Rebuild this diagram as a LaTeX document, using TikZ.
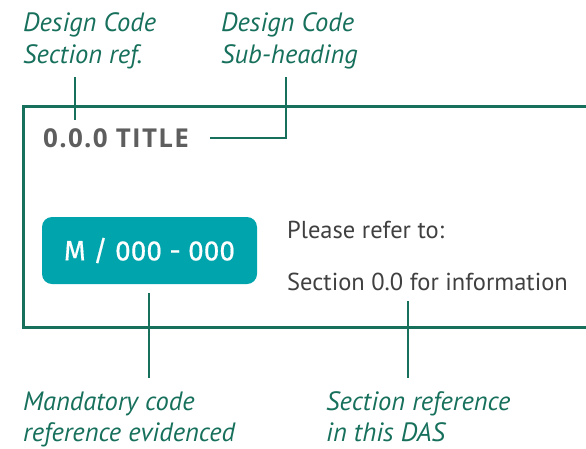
\documentclass[tikz,border=0pt]{standalone}
\usepackage{fontspec}
\setmainfont{PT Sans}
\newfontfamily\titlefont[LetterSpace=5]{Open Sans}
\newfontfamily\codefont{Fira Sans}
\definecolor{dgreen}{HTML}{17705C}
\definecolor{teal1}{HTML}{00A4AD}
\definecolor{txtgray}{HTML}{404040}
\definecolor{titlegray}{HTML}{5E5E5E}
\tikzset{
  lbl/.style={anchor=base west, inner sep=0pt, text=dgreen, font=\fontsize{26.5}{31}\selectfont\itshape, align=left},
  conn/.style={draw=dgreen, line width=2.4pt},
  frame/.style={draw=dgreen, line width=3pt},
  body/.style={anchor=base west, inner sep=0pt, text=txtgray, font=\fontsize{24.5}{28}\selectfont},
}
\begin{document}
\begin{tikzpicture}[x=1pt,y=-1pt]
\useasboundingbox (0,0) rectangle (586,448);
% frame (open on right)
\draw[frame] (590,106) -- (23.5,106) -- (23.5,327) -- (590,327);
% top labels
\node[lbl] (l1a) at (23,31) {Design Code};
\node[lbl] (l1b) at (23,63) {Section ref.};
\node[lbl] (l2a) at (221,31) {Design Code};
\node[lbl] (l2b) at (221,63) {Sub-heading};
% title
\node[anchor=base west, inner sep=0pt, text=titlegray, font=\titlefont\bfseries\fontsize{26}{30}\selectfont] (title) at (43,147.5) {0.0.0 TITLE};
% teal box
\node[fill=teal1, rounded corners=10pt, minimum width=215pt, minimum height=67pt, inner sep=0pt,
      text=white, font=\codefont\fontsize{28}{32}\selectfont\addfontfeatures{FakeBold=0.5}] (code) at (149.5,250.5) {M / 000 - 000};
% body text
\node[body] (p1) at (287,238) {Please refer to:};
\node[body] (p2) at (287,290) {Section 0.0 for information};
% bottom labels
\node[lbl] (b1a) at (23,410) {Mandatory code};
\node[lbl] (b1b) at (23,441) {reference evidenced};
\node[lbl] (b2a) at (326,410) {Section reference};
\node[lbl] (b2b) at (326,441) {in this DAS};
% connectors
\coordinate (c1t) at (75,77);
\coordinate (c1b) at (75,120);
\draw[conn] (c1t) -- (c1b);
\coordinate (c2t) at (286,77);
\coordinate (c2c) at (286,138);
\coordinate (c2e) at (210,138);
\draw[conn] (c2t) -- (c2c) -- (c2e);
\coordinate (c3t) at (149,293);
\coordinate (c3b) at (149,378);
\draw[conn] (c3t) -- (c3b);
\coordinate (c4t) at (408,301);
\coordinate (c4b) at (408,378);
\draw[conn] (c4t) -- (c4b);
\end{tikzpicture}
\end{document}
